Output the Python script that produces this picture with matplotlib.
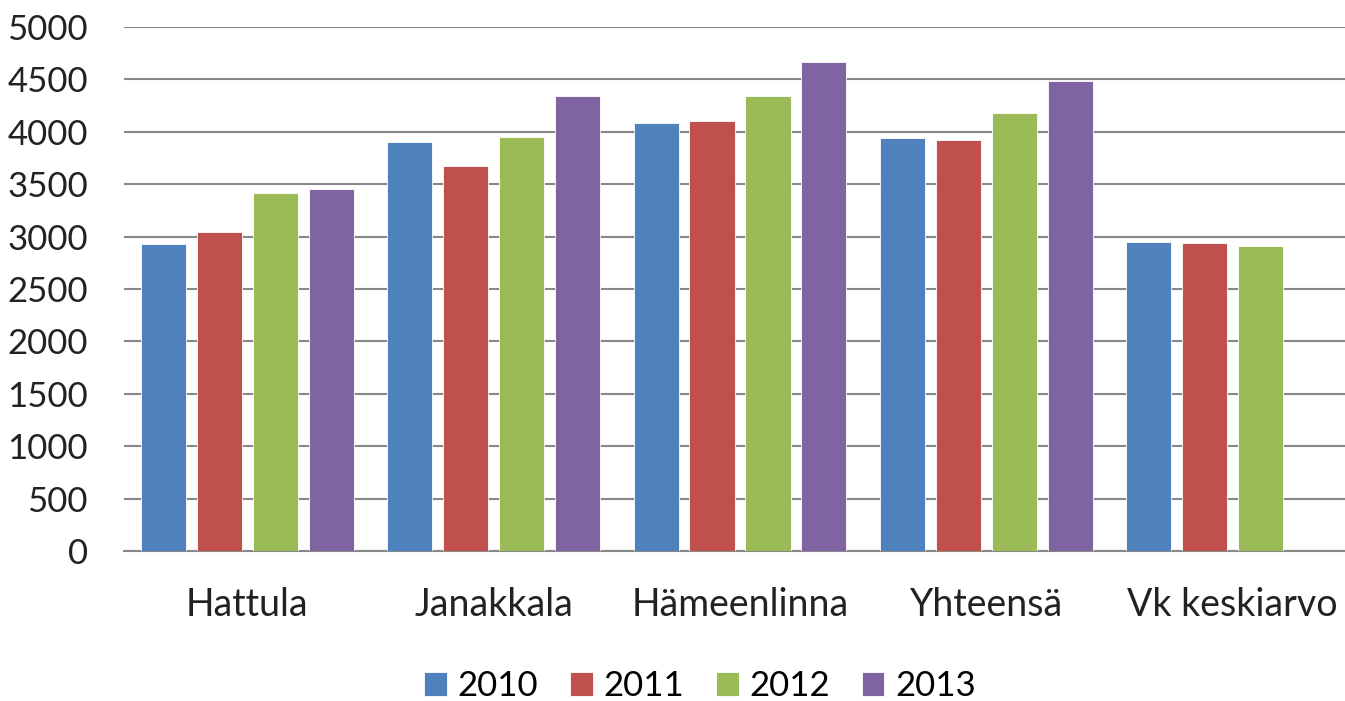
import numpy as np
import matplotlib
matplotlib.use("Agg")
import matplotlib.pyplot as plt

# data
categories = ["Hattula", "Janakkala", "Hämeenlinna", "Yhteensä", "Vk keskiarvo"]
years = ["2010", "2011", "2012", "2013"]
v2010 = [2930, 3905, 4085, 3940, 2945]
v2011 = [3040, 3670, 4100, 3925, 2935]
v2012 = [3415, 3955, 4340, 4175, 2915]
v2013 = [3450, 4340, 4665, 4480, np.nan]
series = [v2010, v2011, v2012, v2013]
colors = ["#4F81BD", "#C0504D", "#9BBB59", "#8064A2"]

plt.rcParams["font.family"] = ["Lato", "DejaVu Sans"]

fig = plt.figure(figsize=(13.45, 7.01), dpi=100)
ax = fig.add_axes([124 / 1345, 150 / 701, 1232 / 1345, 524 / 701])

x = np.arange(len(categories))
pitch = 0.227
width = 0.183
for i, (vals, c) in enumerate(zip(series, colors)):
    ax.bar(x + (i - 1.5) * pitch, vals, width, color=c, label=years[i],
           edgecolor="white", linewidth=0.6, zorder=3)

ax.set_xlim(-0.5, len(categories) - 0.5)
ax.set_ylim(0, 5000)
ax.set_yticks(np.arange(0, 5001, 500))
ax.grid(axis="y", color="#888888", linewidth=1.5, zorder=0)
ax.set_xticks(x)
ax.set_xticklabels(categories)
ax.tick_params(axis="both", length=0, colors="#222222")
ax.tick_params(axis="y", pad=26, labelsize=25)
ax.tick_params(axis="x", pad=26, labelsize=27)
for s in ["top", "right", "left"]:
    ax.spines[s].set_visible(False)
ax.spines["bottom"].set_color("#888888")
ax.spines["bottom"].set_linewidth(1.5)

fig.legend(loc="center", bbox_to_anchor=(700 / 1345, 1 - 686 / 701), ncol=4,
           frameon=False, fontsize=25, handlelength=0.66, handleheight=0.66,
           handletextpad=0.32, columnspacing=0.9)

fig.savefig("out.png", dpi=100, facecolor="white")
